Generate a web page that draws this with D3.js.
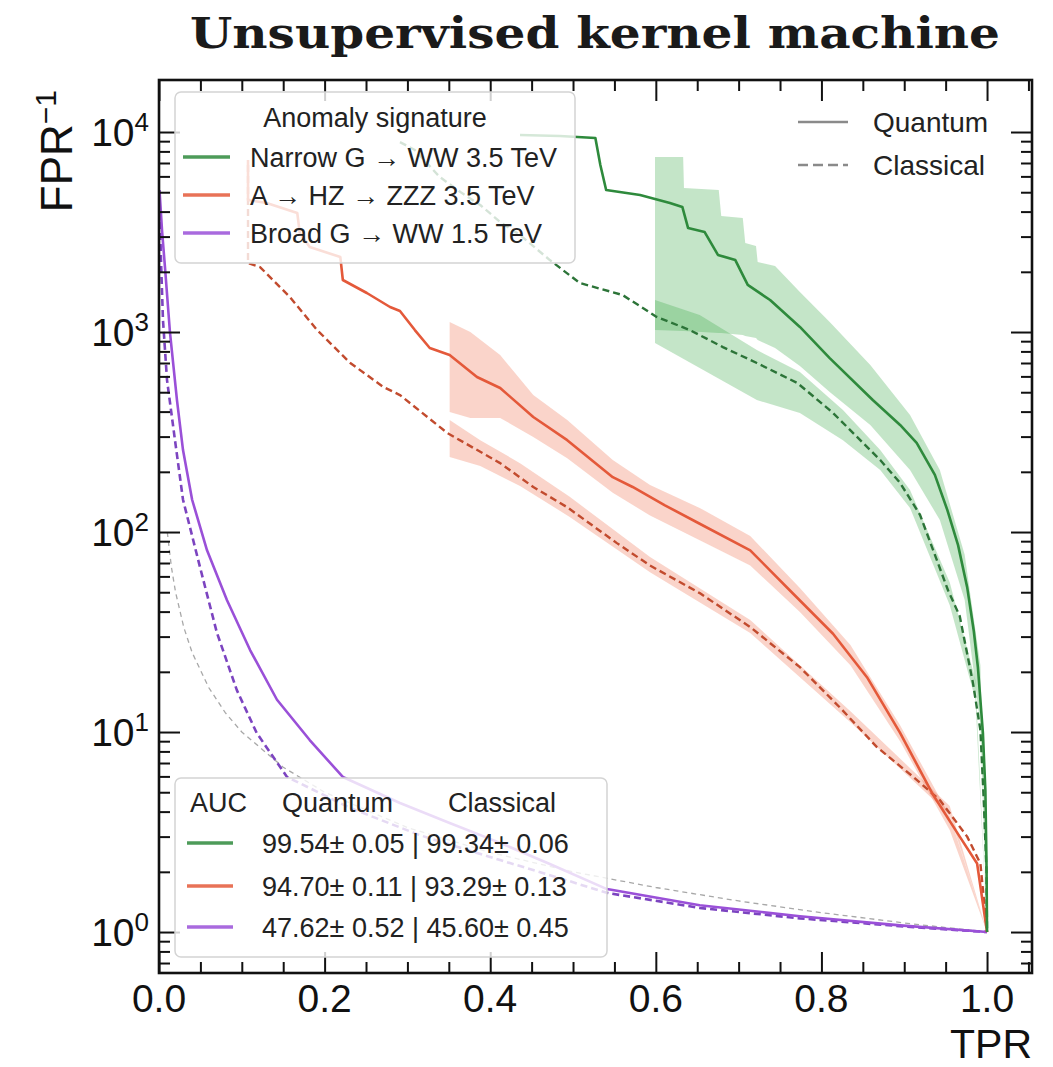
<!DOCTYPE html>
<html><head><meta charset="utf-8">
<script src="https://cdn.jsdelivr.net/npm/d3@7"></script>
<style>body{margin:0;background:#fff}</style>
</head><body>
<svg id="c" width="1053" height="1067"></svg>
<script>
// ---------- data (TPR, 1/FPR) ----------
const greenQ_tpr = [0.436,0.484,0.527,0.533,0.540,0.581,0.617,0.632,0.639,0.659,0.675,0.696,0.711,0.738,0.774,0.810,0.862,0.895,0.915,0.937,0.952,0.965,0.976,0.984,0.989,0.995,0.998,0.9994,1.0];
const greenQ_val = [9660,9550,9330,6840,5130,4840,4420,4220,3310,3160,2430,2290,1720,1445,1060,741,457,343,279,193,129,86,53,32,21,9.9,5.1,2.1,1.0];
const greenC_tpr = [0.291,0.309,0.339,0.364,0.388,0.412,0.436,0.472,0.508,0.560,0.601,0.641,0.681,0.722,0.771,0.814,0.843,0.871,0.895,0.919,0.935,0.953,0.967,0.983,0.992,0.996,0.9994,1.0];
const greenC_val = [8900,8130,5960,5010,4315,3550,3055,2290,1760,1530,1190,1023,841,700,556,394,299,229,176,122,81,51,38,17.6,10.2,4.6,2.0,1.0];
const greenQband_tpr = [0.599,0.633,0.634,0.676,0.679,0.705,0.708,0.721,0.723,0.744,0.774,0.810,0.859,0.907,0.943,0.973,0.992,1.0];
const greenQband_hi  = [7500,7500,5250,5130,3800,3715,2786,2690,2240,2140,1585,1122,684,385,204,77,21.6,1.0];
const greenQband_lo  = [1023,1012,1012,989,989,966,955,933,912,832,676,501,343,204,115,45.7,10.8,1.0];
const greenCband_tpr = [0.599,0.653,0.722,0.774,0.826,0.871,0.907,0.955,0.986,1.0];
const greenCband_hi  = [1445,1216,813,631,407,257,162,56,18.2,1.0];
const greenCband_lo  = [881,661,457,394,288,204,132,43,14.5,1.0];

const orangeQ_tpr = [0.1075,0.1075,0.130,0.167,0.170,0.182,0.219,0.222,0.251,0.279,0.291,0.309,0.327,0.351,0.384,0.412,0.452,0.493,0.548,0.572,0.611,0.653,0.714,0.762,0.814,0.855,0.895,0.935,0.967,0.988,1.0];
const orangeQ_val = [7244,4571,4416,3936,3126,2661,2371,1820,1567,1334,1274,1023,832,767,596,525,376,288,188,168,136,110,81,51,31,18.8,9.9,4.84,3.0,2.2,1.0];
const orangeC_tpr = [0.1075,0.1075,0.122,0.158,0.191,0.231,0.271,0.291,0.348,0.412,0.452,0.493,0.553,0.593,0.653,0.714,0.774,0.822,0.867,0.911,0.943,0.976,0.992,1.0];
const orangeC_val = [6840,2213,2113,1496,1023,700,531,484,313,221,168,133,88,68,49.5,33.5,21.1,13.3,8.41,5.96,4.57,3.0,2.2,1.0];
const orangeQband_tpr = [0.351,0.376,0.412,0.452,0.493,0.548,0.593,0.653,0.714,0.774,0.835,0.895,0.955,1.0];
const orangeQband_hi  = [1122,1000,767,484,363,229,172,132,95.5,52.5,27.2,10.8,3.8,1.0];
const orangeQband_lo  = [398,372,372,299,234,157,121,91,68,39.8,21.6,9.0,3.23,1.0];
const orangeCband_tpr = [0.351,0.388,0.436,0.496,0.593,0.714,0.835,0.955,1.0];
const orangeCband_hi  = [363,288,221,150,75,36.3,12.7,4.27,1.0];
const orangeCband_lo  = [237,214,170,119,63,31.3,11.2,3.85,1.0];

const purpleQ_tpr = [0.0006,0.0036,0.0072,0.0133,0.0217,0.029,0.040,0.058,0.082,0.110,0.1425,0.182,0.222,0.291,0.351,0.412,0.472,0.541,0.653,0.774,0.895,1.0];
const purpleQ_val = [5130,3240,2113,989,457,257,145,81,45.7,25.7,14.5,9.12,5.96,4.42,3.51,2.79,2.19,1.64,1.36,1.20,1.08,1.0];
const purpleC_tpr = [0.0006,0.0024,0.0048,0.0097,0.0193,0.029,0.0495,0.070,0.094,0.118,0.1546,0.231,0.315,0.412,0.484,0.541,0.653,0.774,0.895,1.0];
const purpleC_val = [4571,2291,1148,575,288,145,66.8,31.3,16.2,9.89,5.96,4.17,3.05,2.29,1.86,1.57,1.32,1.17,1.07,1.0];

const random_tpr = [0.01,0.015,0.02,0.03,0.04,0.06,0.08,0.1,0.15,0.2,0.3,0.4,0.5,0.6,0.7,0.8,0.9,1.0];
const random_val = [100,66.7,50,33.3,25,16.7,12.5,10,6.67,5,3.33,2.5,2,1.67,1.43,1.25,1.11,1];

const xMajor = [0,0.2,0.4,0.6,0.8,1.0];
const xLabels = ["0.0","0.2","0.4","0.6","0.8","1.0"];
const yMajor = [1,10,100,1000,10000];
const yExp = ["0","1","2","3","4"];

const signatures = ["Narrow G \u2192 WW 3.5 TeV","A \u2192 HZ \u2192 ZZZ 3.5 TeV","Broad G \u2192 WW 1.5 TeV"];
const aucRows = ["99.54\u00b1 0.05 | 99.34\u00b1 0.06","94.70\u00b1 0.11 | 93.29\u00b1 0.13","47.62\u00b1 0.52 | 45.60\u00b1 0.45"];

const GREEN = "#2e8a3c", ORANGE = "#e4593a", PURPLE = "#9a50d8";
const GREEN_D = "#2c7438", ORANGE_D = "#c24b2e", PURPLE_D = "#7c44c0";

// ---------- setup ----------
const svg = d3.select("#c");
const FONT = "'Liberation Sans', Arial, Helvetica, sans-serif";
const x = d3.scaleLinear().domain([0, 1.0543]).range([159, 1032]);
const y = d3.scaleLog().domain([0.624, 18200]).range([973, 80]);

svg.append("defs").append("clipPath").attr("id","clip")
  .append("rect").attr("x",159).attr("y",80).attr("width",873).attr("height",893);
const plot = svg.append("g").attr("clip-path","url(#clip)");

function band(tpr, lo, hi, color, op){
  const d = tpr.map((t,i)=>({t:t, lo:lo[i], hi:hi[i]}));
  plot.append("path").datum(d)
    .attr("d", d3.area().x(p=>x(p.t)).y0(p=>y(p.lo)).y1(p=>y(p.hi)))
    .attr("fill", color).attr("fill-opacity", op).attr("stroke","none");
}
function line(tpr, val, color, w, dash){
  const d = tpr.map((t,i)=>({t:t, v:val[i]}));
  const p = plot.append("path").datum(d)
    .attr("d", d3.line().x(p=>x(p.t)).y(p=>y(p.v)))
    .attr("fill","none").attr("stroke",color).attr("stroke-width",w)
    .attr("stroke-linejoin","round");
  if (dash) p.attr("stroke-dasharray", dash);
}

// bands
band(greenQband_tpr, greenQband_lo, greenQband_hi, "#3aa84a", 0.3);
band(greenCband_tpr, greenCband_lo, greenCband_hi, "#3aa84a", 0.3);
band(orangeQband_tpr, orangeQband_lo, orangeQband_hi, "#f07050", 0.3);
band(orangeCband_tpr, orangeCband_lo, orangeCband_hi, "#f07050", 0.3);

// random line
line(random_tpr, random_val, "#a8a8a8", 1.3, "5,4");

// curves
line(purpleC_tpr, purpleC_val, PURPLE_D, 2.6, "7,4");
line(purpleQ_tpr, purpleQ_val, PURPLE, 2.6, null);
line(orangeC_tpr, orangeC_val, ORANGE_D, 2.4, "7,4");
line(orangeQ_tpr, orangeQ_val, ORANGE, 2.6, null);
line(greenC_tpr, greenC_val, GREEN_D, 2.4, "7,4");
line(greenQ_tpr, greenQ_val, GREEN, 2.6, null);

// ---------- axes / ticks ----------
const xMinor = d3.range(0, 1.0501, 0.05).filter(v => !xMajor.some(m => Math.abs(m - v) < 1e-6));
const yMinor = [];
[-1,0,1,2,3,4].forEach(k => { for (let m=2; m<=9; m++){ const v=m*Math.pow(10,k); if (v>0.624 && v<18200) yMinor.push(v);} });

function styleAxis(g){ g.select(".domain").remove(); g.selectAll("line").attr("stroke","#111").attr("stroke-width",2); g.selectAll("text").remove(); }
const MAJ = 21, MIN = 11;
svg.append("g").attr("transform","translate(0,973)").call(d3.axisBottom(x).tickValues(xMajor).tickSize(-MAJ).tickFormat("")).call(styleAxis);
svg.append("g").attr("transform","translate(0,973)").call(d3.axisBottom(x).tickValues(xMinor).tickSize(-MIN).tickFormat("")).call(styleAxis);
svg.append("g").attr("transform","translate(0,80)").call(d3.axisTop(x).tickValues(xMajor).tickSize(-MAJ).tickFormat("")).call(styleAxis);
svg.append("g").attr("transform","translate(0,80)").call(d3.axisTop(x).tickValues(xMinor).tickSize(-MIN).tickFormat("")).call(styleAxis);
svg.append("g").attr("transform","translate(159,0)").call(d3.axisLeft(y).tickValues(yMajor).tickSize(-MAJ).tickFormat("")).call(styleAxis);
svg.append("g").attr("transform","translate(159,0)").call(d3.axisLeft(y).tickValues(yMinor).tickSize(-MIN).tickFormat("")).call(styleAxis);
svg.append("g").attr("transform","translate(1032,0)").call(d3.axisRight(y).tickValues(yMajor).tickSize(-MAJ).tickFormat("")).call(styleAxis);
svg.append("g").attr("transform","translate(1032,0)").call(d3.axisRight(y).tickValues(yMinor).tickSize(-MIN).tickFormat("")).call(styleAxis);

svg.append("rect").attr("x",159).attr("y",80).attr("width",873).attr("height",893)
  .attr("fill","none").attr("stroke","#111").attr("stroke-width",2.6);

// tick labels
svg.append("g").selectAll("text").data(xMajor).join("text")
  .attr("x", d=>x(d)).attr("y", 1012).attr("text-anchor","middle")
  .attr("font-family",FONT).attr("font-size",39).attr("fill","#111")
  .text((d,i)=>xLabels[i]);
const yl = svg.append("g").selectAll("text").data(yMajor).join("text")
  .attr("x", 149).attr("y", d=>y(d)+14).attr("text-anchor","end")
  .attr("font-family",FONT).attr("font-size",39).attr("fill","#111");
yl.append("tspan").text("10");
yl.append("tspan").attr("dy",-15).attr("font-size",26).text((d,i)=>yExp[i]);

// axis labels
svg.append("text").attr("x",1032).attr("y",1058).attr("text-anchor","end")
  .attr("font-family",FONT).attr("font-size",41).attr("fill","#111").text("TPR");
const ylab = svg.append("text").attr("transform","translate(72,90) rotate(-90)")
  .attr("text-anchor","end").attr("font-family",FONT).attr("font-size",44).attr("fill","#111");
ylab.append("tspan").text("FPR");
ylab.append("tspan").attr("dy",-16).attr("font-size",30).text("\u22121");

// title
svg.append("text").attr("x",595).attr("y",48).attr("text-anchor","middle")
  .attr("font-family","'DejaVu Serif', 'Liberation Serif', serif").attr("font-weight","bold")
  .attr("font-size",43).attr("fill","#1a1a1a")
  .attr("textLength",810).attr("lengthAdjust","spacingAndGlyphs")
  .text("Unsupervised kernel machine");

// ---------- legends ----------
const LF = 27;
// legend 1
svg.append("rect").attr("x",175).attr("y",92).attr("width",400).attr("height",171).attr("rx",6)
  .attr("fill","#fff").attr("fill-opacity",0.8).attr("stroke","#d4d4d4").attr("stroke-width",1.5);
svg.append("text").attr("x",375).attr("y",127).attr("text-anchor","middle")
  .attr("font-family",FONT).attr("font-size",LF).attr("fill","#222").text("Anomaly signature");
const legCols = [GREEN, ORANGE, PURPLE];
const l1y = [157,195,233];
signatures.forEach((s,i)=>{
  svg.append("line").attr("x1",183).attr("x2",230).attr("y1",l1y[i]).attr("y2",l1y[i])
    .attr("stroke",legCols[i]).attr("stroke-width",3.5).attr("stroke-opacity",0.85);
  svg.append("text").attr("x",250).attr("y",l1y[i]+10).attr("font-family",FONT).attr("font-size",LF)
    .attr("fill","#222").text(s);
});

// legend 2
svg.append("line").attr("x1",798).attr("x2",848).attr("y1",122).attr("y2",122).attr("stroke","#8a8a8a").attr("stroke-width",2.6);
svg.append("line").attr("x1",798).attr("x2",848).attr("y1",165).attr("y2",165).attr("stroke","#8a8a8a").attr("stroke-width",2.6).attr("stroke-dasharray","10,5");
svg.append("text").attr("x",873).attr("y",132).attr("font-family",FONT).attr("font-size",28).attr("fill","#222").text("Quantum");
svg.append("text").attr("x",873).attr("y",175).attr("font-family",FONT).attr("font-size",28).attr("fill","#222").text("Classical");

// legend 3
svg.append("rect").attr("x",175).attr("y",778).attr("width",432).attr("height",179).attr("rx",6)
  .attr("fill","#fff").attr("fill-opacity",0.8).attr("stroke","#d4d4d4").attr("stroke-width",1.5);
svg.append("text").attr("x",190).attr("y",812).attr("font-family",FONT).attr("font-size",LF).attr("fill","#222").text("AUC");
svg.append("text").attr("x",282).attr("y",812).attr("font-family",FONT).attr("font-size",LF).attr("fill","#222").text("Quantum");
svg.append("text").attr("x",448).attr("y",812).attr("font-family",FONT).attr("font-size",LF).attr("fill","#222").text("Classical");
const l3y = [843,886,927];
aucRows.forEach((s,i)=>{
  svg.append("line").attr("x1",187).attr("x2",233).attr("y1",l3y[i]).attr("y2",l3y[i])
    .attr("stroke",legCols[i]).attr("stroke-width",3.5).attr("stroke-opacity",0.85);
  svg.append("text").attr("x",262).attr("y",l3y[i]+10).attr("font-family",FONT).attr("font-size",LF)
    .attr("fill","#222").text(s);
});
</script>
</body></html>
